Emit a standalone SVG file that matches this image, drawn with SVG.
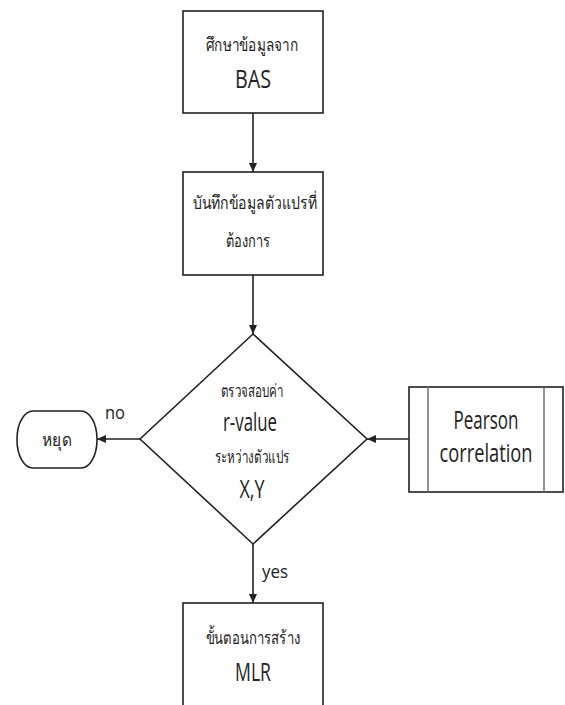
<svg xmlns="http://www.w3.org/2000/svg" width="565" height="705" viewBox="0 0 565 705">
<style>
.box{fill:#fff;stroke:#222;stroke-width:1.6}
.inner{stroke:#777;stroke-width:1.6}
.ln{stroke:#222;stroke-width:1.6;fill:none}
.th{font-family:"Open Sans","Noto Sans","DejaVu Sans",sans-serif;font-size:18px;fill:#222;text-anchor:middle}
.en{font-family:"Open Sans","Liberation Sans",sans-serif;font-size:26px;fill:#222;text-anchor:middle}
.lb{font-family:"Open Sans","Liberation Sans",sans-serif;font-size:19px;fill:#222;text-anchor:middle}
</style>
<defs>
<marker id="ah" markerWidth="10" markerHeight="10" refX="9" refY="5" orient="auto" markerUnits="userSpaceOnUse">
<path d="M0,1 L9,5 L0,9 Z" fill="#222"/>
</marker>
</defs>
<rect width="565" height="705" fill="#fff"/>
<g id="connectors">
<line class="ln" x1="253" y1="113" x2="253" y2="172" marker-end="url(#ah)"/>
<line class="ln" x1="253" y1="275" x2="253" y2="334" marker-end="url(#ah)"/>
<line class="ln" x1="409" y1="439" x2="367" y2="439" marker-end="url(#ah)"/>
<line class="ln" x1="140" y1="439" x2="97" y2="439" marker-end="url(#ah)"/>
<line class="ln" x1="253" y1="544" x2="253" y2="603" marker-end="url(#ah)"/>
<text class="lb" x="115" y="419" textLength="20" lengthAdjust="spacingAndGlyphs">no</text>
<text class="lb" x="275" y="578" textLength="26" lengthAdjust="spacingAndGlyphs">yes</text>
</g>
<g id="n1">
<rect class="box" x="183" y="11" width="140" height="102"/>
<text class="th" x="252" y="51" textLength="92" lengthAdjust="spacingAndGlyphs">ศึกษาข้อมูลจาก</text>
<text class="en" x="253" y="88" textLength="36" lengthAdjust="spacingAndGlyphs">BAS</text>
</g>
<g id="n2">
<rect class="box" x="183" y="172" width="140" height="103"/>
<text class="th" x="255" y="209" textLength="124" lengthAdjust="spacingAndGlyphs">บันทึกข้อมูลตัวแปรที่</text>
<text class="th" x="248" y="247" textLength="45" lengthAdjust="spacingAndGlyphs">ต้องการ</text>
</g>
<g id="n3">
<polygon class="box" points="253,334 367,439 253,544 140,439"/>
<text class="th" x="252" y="397" font-size="15" textLength="63" lengthAdjust="spacingAndGlyphs">ตรวจสอบค่า</text>
<text class="en" x="250" y="431" font-size="23" textLength="54" lengthAdjust="spacingAndGlyphs">r-value</text>
<text class="th" x="252" y="463" font-size="15" textLength="75" lengthAdjust="spacingAndGlyphs">ระหว่างตัวแปร</text>
<text class="en" x="252" y="498" font-size="23" textLength="25" lengthAdjust="spacingAndGlyphs">X,Y</text>
</g>
<g id="n4">
<rect class="box" x="17" y="411" width="80" height="57" rx="16" ry="28"/>
<text class="th" x="57" y="446" font-size="17" textLength="30" lengthAdjust="spacingAndGlyphs">หยุด</text>
</g>
<g id="n5">
<rect class="box" x="409" y="387" width="154" height="105"/>
<line class="inner" x1="428" y1="387" x2="428" y2="492"/>
<line class="inner" x1="544" y1="387" x2="544" y2="492"/>
<text class="en" x="486" y="429" font-size="23" textLength="65" lengthAdjust="spacingAndGlyphs">Pearson</text>
<text class="en" x="486" y="462" font-size="21" textLength="93" lengthAdjust="spacingAndGlyphs">correlation</text>
</g>
<g id="n6">
<rect class="box" x="183" y="603" width="140" height="120"/>
<text class="th" x="253" y="644" textLength="95" lengthAdjust="spacingAndGlyphs">ขั้นตอนการสร้าง</text>
<text class="en" x="253" y="681" textLength="36" lengthAdjust="spacingAndGlyphs">MLR</text>
</g>
</svg>
